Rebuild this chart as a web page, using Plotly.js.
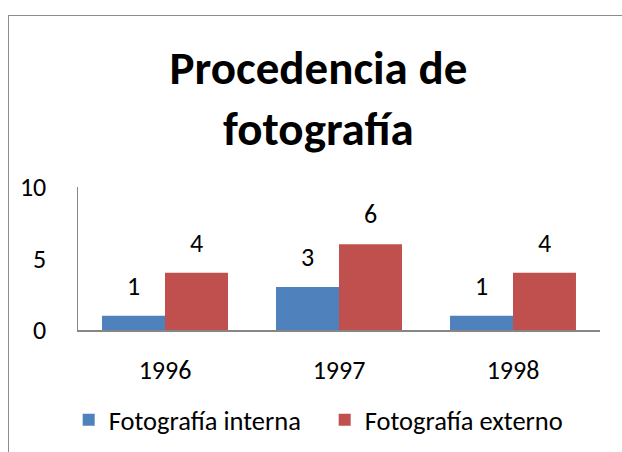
<!DOCTYPE html>
<html><head><meta charset="utf-8">
<script src="https://cdn.plot.ly/plotly-3.0.1.min.js"></script>
<style>
html,body{margin:0;padding:0;background:#fff;}
#wrap{position:absolute;left:0;top:0;width:622px;height:452px;}
#frame{position:absolute;left:8px;top:15px;width:620px;height:445px;border-left:1.5px solid #8c8c8c;border-top:1.5px solid #8c8c8c;pointer-events:none;}
#chart{position:absolute;left:0;top:0;width:622px;height:452px;}
</style></head>
<body>
<div id="wrap"><div id="chart"></div><div id="frame"></div></div>
<script>
const categories = ['1996', '1997', '1998'];
const seriesNames = ['Fotografía interna', 'Fotografía externo'];
const interna = [1, 3, 1];
const externo = [4, 6, 4];
const yTicks = [0, 5, 10];

const FONT = 'Carlito, Lato, sans-serif';
const colors = ['#4F81BD', '#C0504D'];
const series = [interna, externo];

const traces = series.map((vals, i) => ({
  type: 'bar', x: categories, y: vals, name: seriesNames[i],
  marker: {color: colors[i], line: {width: 0}},
  hoverinfo: 'none'
}));

const annotations = [];
series.forEach((vals, i) => {
  vals.forEach((v, j) => {
    annotations.push({
      x: j, y: v, xref: 'x', yref: 'y',
      text: String(v), showarrow: false,
      xshift: (i === 0 ? -31.5 : 31.5), yanchor: 'bottom', yshift: 12,
      font: {family: FONT, size: 26, color: '#000'}
    });
  });
});

const layout = {
  width: 622, height: 452,
  margin: {l: 78, r: 22, t: 187, b: 122},
  paper_bgcolor: '#fff', plot_bgcolor: '#fff',
  font: {family: FONT, size: 26, color: '#000'},
  title: {
    text: '<b>Procedencia de<br>fotografía</b>',
    font: {family: FONT, size: 47, color: '#000'},
    x: 0.512, xanchor: 'center', y: 0.815, yanchor: 'middle', yref: 'container'
  },
  showlegend: true,
  legend: {
    orientation: 'h', x: 0.522, xanchor: 'center', xref: 'container',
    y: 0.071, yanchor: 'middle', yref: 'container',
    font: {family: FONT, size: 26.5, color: '#000'},
    entrywidth: 211, entrywidthmode: 'pixels',
    itemclick: false, itemdoubleclick: false
  },
  barmode: 'group', bargap: 0.276, bargroupgap: 0,
  xaxis: {
    type: 'category', categoryarray: categories, showgrid: false, zeroline: false,
    range: [-0.5, 2.5],
    showline: true, linecolor: '#868686', linewidth: 1.5,
    ticks: '', ticklabelstandoff: 16,
    tickfont: {family: FONT, size: 26, color: '#000'}, fixedrange: true
  },
  yaxis: {
    range: [0, 10], tickvals: yTicks, ticktext: yTicks.map(String),
    showgrid: false, zeroline: false,
    showline: true, linecolor: '#868686', linewidth: 1.5,
    ticks: '', ticklabelstandoff: 25,
    tickfont: {family: FONT, size: 26, color: '#000'}, fixedrange: true
  },
  annotations: annotations
};

Plotly.newPlot('chart', traces, layout, {displayModeBar: false, staticPlot: true});
</script>
</body></html>
